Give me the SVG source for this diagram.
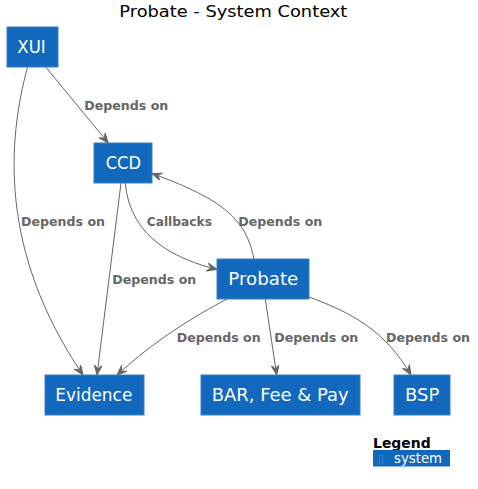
<svg xmlns="http://www.w3.org/2000/svg" width="478" height="489" viewBox="0 0 478 489">
<style>
.node rect{fill:#1168BD;stroke:#3C7FC0;stroke-width:1}
.node text{fill:#FFFFFF;font-family:"DejaVu Sans",sans-serif;font-size:17px;text-anchor:start}
.edge{fill:none;stroke:#666666;stroke-width:1}
.lbl{fill:#666666;font-family:"DejaVu Sans",sans-serif;font-size:12.5px;font-weight:bold}
.title{fill:#000000;font-family:"DejaVu Sans",sans-serif;font-size:15.5px}
</style>
<defs>
<marker id="arr" markerUnits="userSpaceOnUse" markerWidth="12" markerHeight="10" refX="10" refY="4" orient="auto" viewBox="0 0 12 10">
<path d="M0,0 L10,4 L0,8 L4,4 z" fill="#666666" stroke="#666666" stroke-width="1"/>
</marker>
</defs>
<rect width="478" height="489" fill="#FFFFFF"/>
<text class="title" x="119.3" y="16.5" textLength="228" lengthAdjust="spacingAndGlyphs">Probate - System Context</text>

<g id="connectors">
<path class="edge" d="M45.7,67 L108.3,143" marker-end="url(#arr)"/>
<path class="edge" d="M27.5,67 C8,140 -2,250 83,375" marker-end="url(#arr)"/>
<path class="edge" d="M121,183 L97,375" marker-end="url(#arr)"/>
<path class="edge" d="M125.3,183 C130,240 180,260 217,269.5" marker-end="url(#arr)"/>
<path class="edge" d="M254,259 C246,220 225,200 152,173.5" marker-end="url(#arr)"/>
<path class="edge" d="M227,299 C195,316 155,340 117,375" marker-end="url(#arr)"/>
<path class="edge" d="M265.3,299 L276.7,375" marker-end="url(#arr)"/>
<path class="edge" d="M309,297 C350,312 385,330 411,375" marker-end="url(#arr)"/>
<text class="lbl" x="84.3" y="110" textLength="84" lengthAdjust="spacingAndGlyphs">Depends on</text>
<text class="lbl" x="21" y="226" textLength="84" lengthAdjust="spacingAndGlyphs">Depends on</text>
<text class="lbl" x="146.7" y="226" textLength="65.3" lengthAdjust="spacingAndGlyphs">Callbacks</text>
<text class="lbl" x="238.3" y="226" textLength="84" lengthAdjust="spacingAndGlyphs">Depends on</text>
<text class="lbl" x="112.3" y="284" textLength="84" lengthAdjust="spacingAndGlyphs">Depends on</text>
<text class="lbl" x="176.7" y="342" textLength="84" lengthAdjust="spacingAndGlyphs">Depends on</text>
<text class="lbl" x="274.3" y="342" textLength="84" lengthAdjust="spacingAndGlyphs">Depends on</text>
<text class="lbl" x="386" y="342" textLength="84" lengthAdjust="spacingAndGlyphs">Depends on</text>
</g>

<g id="node-xui" class="node">
<rect x="7" y="27" width="51" height="40"/>
<text x="17.3" y="53" textLength="28.4" lengthAdjust="spacingAndGlyphs">XUI</text>
</g>
<g id="node-ccd" class="node">
<rect x="94" y="143" width="58" height="40"/>
<text x="105.7" y="169" textLength="35.3" lengthAdjust="spacingAndGlyphs">CCD</text>
</g>
<g id="node-probate" class="node">
<rect x="217" y="259" width="92" height="40"/>
<text x="228.3" y="285" textLength="70" lengthAdjust="spacingAndGlyphs">Probate</text>
</g>
<g id="node-evidence" class="node">
<rect x="45" y="375" width="99" height="40"/>
<text x="55.3" y="401" textLength="77" lengthAdjust="spacingAndGlyphs">Evidence</text>
</g>
<g id="node-bar" class="node">
<rect x="201" y="375" width="159" height="40"/>
<text x="211.7" y="401" textLength="137" lengthAdjust="spacingAndGlyphs">BAR, Fee &amp; Pay</text>
</g>
<g id="node-bsp" class="node">
<rect x="394" y="375" width="56" height="40"/>
<text x="405" y="401" textLength="34.3" lengthAdjust="spacingAndGlyphs">BSP</text>
</g>

<g id="legend">
<text x="373" y="447.7" font-family="DejaVu Sans, sans-serif" font-size="14" font-weight="bold" fill="#000000" textLength="57.7" lengthAdjust="spacingAndGlyphs">Legend</text>
<rect x="373" y="450" width="77" height="16.5" fill="#1168BD"/>
<rect x="379.5" y="455.5" width="3.5" height="8.5" fill="none" stroke="#3A7FC6" stroke-width="0.8"/>
<text x="394" y="462.7" font-family="DejaVu Sans, sans-serif" font-size="13.3" fill="#FFFFFF" textLength="48" lengthAdjust="spacingAndGlyphs">system</text>
</g>
</svg>
